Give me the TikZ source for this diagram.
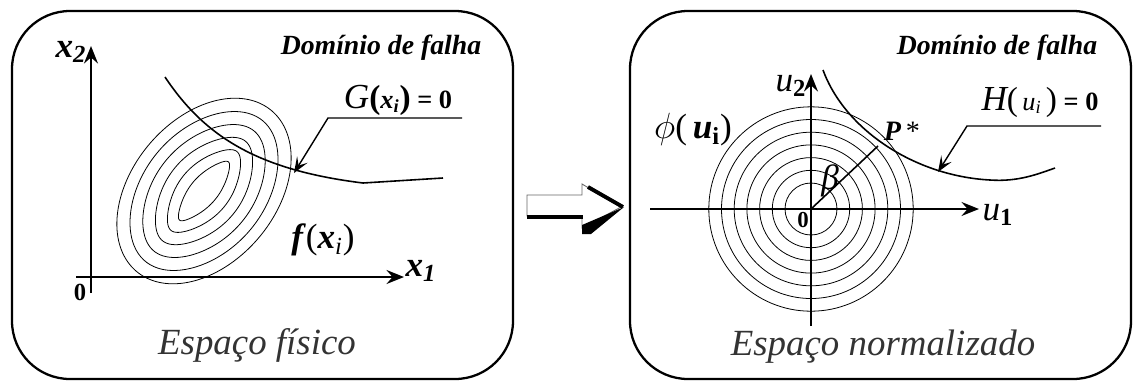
\documentclass[tikz,border=0pt]{standalone}
\usepackage{fontspec}
\setmainfont{Liberation Serif}[
  ItalicFont={Liberation Serif Italic},
  BoldFont={Liberation Serif Bold},
  BoldItalicFont={Liberation Serif Bold Italic}]
\usepackage{tikz}
\usetikzlibrary{arrows.meta, calc}
\tikzset{
  panel/.style={line width=1.3pt, rounded corners=33pt},
  axis/.style={line width=1.1pt, arrows={-Stealth[length=10pt, width=8pt, inset=3.5pt]}},
  leader/.style={line width=0.8pt, arrows={-Stealth[length=9pt, width=7pt, inset=4pt]}},
  contour/.style={line width=0.45pt},
  limit/.style={line width=0.9pt},
  domtxt/.style={font=\fontsize{15.8}{16}\selectfont\bfseries\itshape},
  spacetxt/.style={font=\fontsize{21}{22}\selectfont\itshape, text=black!80},
  eqtxt/.style={font=\fontsize{15}{16}\selectfont},
}
\newcommand\bigpar[1]{{\fontsize{19}{19}\selectfont #1}}

\begin{document}
\begin{tikzpicture}[x=0.02cm, y=-0.02cm]
\useasboundingbox (0,0) rectangle (1133,380);
% boxes
\draw [panel] (12,11) rectangle (513,379);
\draw [panel] (630,11) rectangle (1131,379);

% physical space
\coordinate (O1) at (91,277);
\coordinate (X1end) at (404,277);
\coordinate (X2end) at (91,46);
\draw [axis] (76,277) -- (X1end);
\draw [axis] (91,293) -- (X2end);
\node [font=\fontsize{20}{20}\selectfont\bfseries\itshape] (x2lab) at (71,52) {x\textsubscript{2}};
\node [font=\fontsize{20}{20}\selectfont\bfseries\itshape] (x1lab) at (421,271) {x\textsubscript{1}};
\node [font=\fontsize{14}{14}\selectfont\bfseries] (zero1) at (80,292) {0};

\coordinate (C1) at (204,191);
\begin{scope}[shift={(C1)}, rotate=50]
\foreach \a/\b/\k in {105/72/0, 91.6/60.4/0.05, 78.2/48.8/0.1, 64.8/37.2/0.17, 51.4/25.6/0.25, 38/14/0.32}
  \draw [contour] plot [domain=0:360, samples=90, smooth cycle] ({\a*cos(\x)}, {\b*sin(\x)*(1-\k*cos(\x)^2)});
\end{scope}

\coordinate (Gtop) at (165,77);
\coordinate (Gmid) at (363,183);
\coordinate (Gend) at (443,178);
\coordinate (Gtouch) at (294,173);
\draw [limit] (Gtop) .. controls (205,137) and (258,170) .. (Gmid) -- (Gend);
\coordinate (Lg1) at (462,118);
\coordinate (Lg2) at (328,118);
\draw [leader] (Lg1) -- (Lg2) -- (Gtouch);
\node [eqtxt] (Glab) at (398,100) {{\fontsize{20}{20}\selectfont\itshape G}\textbf{\bigpar{(}\textit{x}\textsubscript{\textit{i}}\bigpar{)} = 0}};
\node [font=\fontsize{20}{20}\selectfont] (flab) at (323,240) {\textbf{\textit{f}}(\textbf{\textit{x}}\textsubscript{\textit{i}})};
\node [domtxt] (dom1) at (381,48) {Domínio de falha};
\node [spacetxt] (esp1) at (257,345) {Espaço físico};

% block arrow
\draw [fill=white, draw=black!60, line width=0.5pt] (527,195) -- (582,195) -- (582,184) -- (621,207) -- (582,228) -- (582,216) -- (527,216) -- cycle;
\draw [line width=1.8pt] (527,217) -- (583,217);
\draw [line width=2.2pt] (588,187) -- (623,207);
\fill (582,225) -- (624,207) -- (591,234) -- (582,234) -- cycle;

% normalized space
\coordinate (O2) at (811,209);
\coordinate (U1end) at (979,209);
\coordinate (U2end) at (811,74);
\draw [axis] (650,209) -- (U1end);
\draw [axis] (811,326) -- (U2end);
\foreach \r in {26,38.7,51.4,64.1,76.8,89.5,102.2}
  \draw [contour] (O2) circle [radius=\r];
\node [font=\fontsize{20}{20}\selectfont\itshape] (u2lab) at (791,86) {u\textsubscript{\upshape\bfseries 2}};
\node [font=\fontsize{20}{20}\selectfont\itshape] (u1lab) at (998,215) {u\textsubscript{\upshape\bfseries 1}};
\node [font=\fontsize{13}{13}\selectfont\bfseries] (zero2) at (803,220) {0};

\coordinate (Pstar) at (878,146);
\draw [line width=0.9pt] (O2) -- (Pstar);
\node [font=\fontsize{20}{20}\selectfont\itshape] (beta) at (830,181) {β};
\node [font=\fontsize{16}{16}\selectfont] (plab) at (902,131) {\textbf{\textit{P}}\,*};

\coordinate (Htop) at (823,70);
\coordinate (Hlow) at (990,180);
\coordinate (Hend) at (1055,168);
\coordinate (Htouch) at (938,172);
\draw [limit] (Htop) .. controls (845,130) and (915,176) .. (Hlow) .. controls (1018,182) and (1038,174) .. (Hend);
\coordinate (Lh1) at (1101,126);
\coordinate (Lh2) at (967,126);
\draw [leader] (Lh1) -- (Lh2) -- (Htouch);
\node [eqtxt] (Hlab) at (1040,102) {{\fontsize{20}{20}\selectfont\itshape H}\bigpar{(}\,\textit{u}\textsubscript{\textit{i}}\,\bigpar{)} \textbf{= 0}};
\node [font=\fontsize{20}{20}\selectfont] (philab) at (693,130) {$\phi$(\,\textbf{\textit{u}}\textsubscript{\textbf{i}})};
\node [domtxt] (dom2) at (997,48) {Domínio de falha};
\node [spacetxt] (esp2) at (883,347) {Espaço normalizado};
\end{tikzpicture}
\end{document}
